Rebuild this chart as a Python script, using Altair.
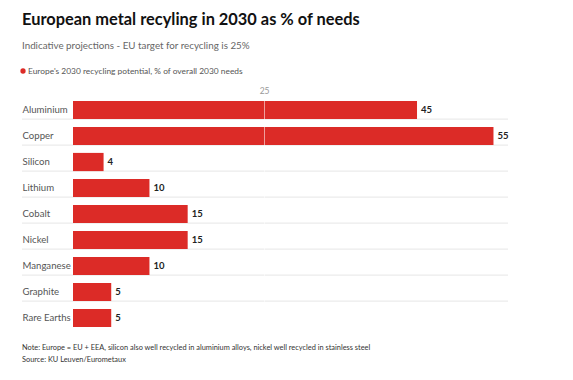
import altair as alt
import pandas as pd

metals = ["Aluminium", "Copper", "Silicon", "Lithium", "Cobalt", "Nickel",
          "Manganese", "Graphite", "Rare Earths"]
values = [45, 55, 4, 10, 15, 15, 10, 5, 5]
target_ticks = [25]

title = "European metal recyling in 2030 as % of needs"
subtitle = "Indicative projections - EU target for recycling is 25%"
legend_label = "Europe's 2030 recycling potential, % of overall 2030 needs"
notes = ["Note: Europe = EU + EEA, silicon also well recycled in aluminium alloys, nickel well recycled in stainless steel",
         "Source: KU Leuven/Eurometaux"]

FONT = "Lato"
RED = "#dc2b27"

df = pd.DataFrame({"metal": metals, "value": values})
sep_df = pd.DataFrame({"metal": metals[:-1]})

yscale = alt.Scale(domain=metals, paddingInner=0.3, paddingOuter=0.15)
xscale = alt.Scale(domain=[0, 56.9], nice=False)

base = alt.Chart(df)

bars = base.mark_bar(color=RED).encode(
    x=alt.X("value:Q", scale=xscale,
            axis=alt.Axis(orient="top", values=target_ticks, title=None, ticks=False,
                          domain=False, labelColor="#999", labelFontSize=8.5,
                          labelFont=FONT, labelPadding=2, grid=True,
                          gridColor="white", gridOpacity=0.55, zindex=1)),
    y=alt.Y("metal:N", scale=yscale, sort=metals,
            axis=alt.Axis(title=None, ticks=False, domain=False, labelAlign="left",
                          labelPadding=51, labelFont=FONT, labelFontSize=9.6,
                          labelColor="#555")),
)

labels = base.mark_text(align="left", dx=4, fontWeight="bold", fontSize=9.5,
                        font=FONT, color="#222").encode(
    x=alt.X("value:Q", scale=xscale),
    y=alt.Y("metal:N", scale=yscale, sort=metals),
    text=alt.Text("value:Q"),
)

seps = alt.Chart(sep_df).mark_rule(color="#e6e6e6", strokeWidth=1).encode(
    y=alt.Y("metal:N", scale=yscale, sort=metals, bandPosition=1),
    x=alt.value(-51),
    x2=alt.value(435),
)

def txt(s, x, y, size, color, weight="normal", baseline="alphabetic"):
    return alt.Chart(pd.DataFrame({"t": [s]})).mark_text(
        align="left", baseline=baseline, fontSize=size, font=FONT,
        color=color, fontWeight=weight).encode(
        x=alt.value(x), y=alt.value(y), text="t:N")

title_t = txt(title, -51, -72, 16.4, "#111", "bold")
sub_t = txt(subtitle, -51, -48, 9.8, "#666")
leg_dot = alt.Chart(pd.DataFrame({"d": [0]})).mark_point(
    filled=True, size=28, color=RED, opacity=1).encode(
    x=alt.value(-50), y=alt.value(-26))
leg_t = txt(legend_label, -45, -26, 8.4, "#555", baseline="middle")
note1 = txt(notes[0], -51, 253, 7.4, "#333")
note2 = txt(notes[1], -51, 265, 7.4, "#333")

chart = alt.layer(seps, bars, labels, title_t, sub_t, leg_dot, leg_t, note1, note2).properties(
    width=435, height=234,
    autosize=alt.AutoSizeParams(type="none"),
    padding={"left": 65, "top": 89, "right": 49, "bottom": 49},
).configure_view(stroke=None)

chart.save("out.html", embed_options={"renderer": "svg", "actions": False})
